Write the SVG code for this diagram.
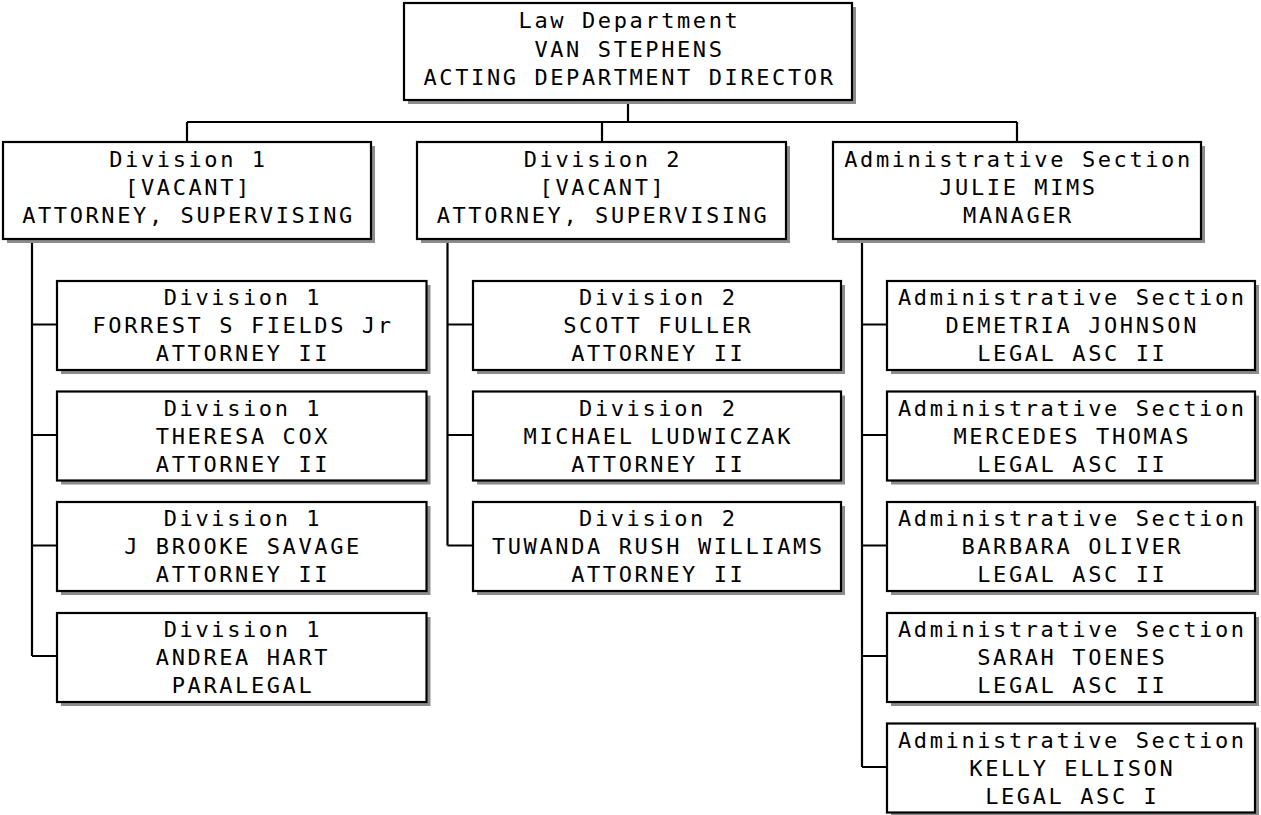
<svg xmlns="http://www.w3.org/2000/svg" width="1261" height="815" viewBox="0 0 1261 815">
<defs>
<style>
.shadow{fill:#8c8c8c;stroke:none}
.box{fill:#ffffff;stroke:#000000;stroke-width:2.2}
text{font-family:"DejaVu Sans Mono","Liberation Mono",monospace;font-size:22px;letter-spacing:2.6px;text-anchor:middle;fill:#000000}
.conn{fill:none;stroke:#000000;stroke-width:2.2}
</style>
</defs>
<rect width="1261" height="815" fill="#ffffff"/>
<g id="connectors">
<path class="conn" d="M628,100 V122 M187,122 H1017 M187,122 V142 M602,122 V142 M1017,122 V142"/>
<path class="conn" d="M32,239 V656 M32,324.5 H57 M32,435 H57 M32,545.5 H57 M32,656 H57"/>
<path class="conn" d="M447.5,239 V545.5 M447.5,324.5 H473 M447.5,435 H473 M447.5,545.5 H473"/>
<path class="conn" d="M862,239 V767 M862,324.5 H887 M862,435 H887 M862,545.5 H887 M862,656 H887 M862,767 H887"/>
</g>
<g id="n-top">
<rect class="shadow" x="408" y="7" width="448" height="97"/>
<rect class="box" x="404" y="3" width="448" height="97"/>
<text x="629.5" y="28">Law Department</text>
<text x="629.5" y="57">VAN STEPHENS</text>
<text x="629.5" y="85">ACTING DEPARTMENT DIRECTOR</text>
</g>
<g id="n-div1">
<rect class="shadow" x="7" y="146" width="368" height="97"/>
<rect class="box" x="3" y="142" width="368" height="97"/>
<text x="188.5" y="167">Division 1</text>
<text x="188.5" y="195">[VACANT]</text>
<text x="188.5" y="223">ATTORNEY, SUPERVISING</text>
</g>
<g id="n-div2">
<rect class="shadow" x="421" y="146" width="369" height="97"/>
<rect class="box" x="417" y="142" width="369" height="97"/>
<text x="603" y="167">Division 2</text>
<text x="603" y="195">[VACANT]</text>
<text x="603" y="223">ATTORNEY, SUPERVISING</text>
</g>
<g id="n-admin">
<rect class="shadow" x="837" y="146" width="368" height="97"/>
<rect class="box" x="833" y="142" width="368" height="97"/>
<text x="1018.5" y="167">Administrative Section</text>
<text x="1018.5" y="195">JULIE MIMS</text>
<text x="1018.5" y="223">MANAGER</text>
</g>
<g id="n-d1c1">
<rect class="shadow" x="61" y="285" width="369.5" height="89"/>
<rect class="box" x="57" y="281" width="369.5" height="89"/>
<text x="243" y="305">Division 1</text>
<text x="243" y="333">FORREST S FIELDS Jr</text>
<text x="243" y="361">ATTORNEY II</text>
</g>
<g id="n-d1c2">
<rect class="shadow" x="61" y="395.5" width="369.5" height="89"/>
<rect class="box" x="57" y="391.5" width="369.5" height="89"/>
<text x="243" y="415.5">Division 1</text>
<text x="243" y="443.5">THERESA COX</text>
<text x="243" y="471.5">ATTORNEY II</text>
</g>
<g id="n-d1c3">
<rect class="shadow" x="61" y="506" width="369.5" height="89"/>
<rect class="box" x="57" y="502" width="369.5" height="89"/>
<text x="243" y="526">Division 1</text>
<text x="243" y="554">J BROOKE SAVAGE</text>
<text x="243" y="582">ATTORNEY II</text>
</g>
<g id="n-d1c4">
<rect class="shadow" x="61" y="617" width="369.5" height="89"/>
<rect class="box" x="57" y="613" width="369.5" height="89"/>
<text x="243" y="637">Division 1</text>
<text x="243" y="665">ANDREA HART</text>
<text x="243" y="693">PARALEGAL</text>
</g>
<g id="n-d2c1">
<rect class="shadow" x="477" y="285" width="368" height="89"/>
<rect class="box" x="473" y="281" width="368" height="89"/>
<text x="658.3" y="305">Division 2</text>
<text x="658.3" y="333">SCOTT FULLER</text>
<text x="658.3" y="361">ATTORNEY II</text>
</g>
<g id="n-d2c2">
<rect class="shadow" x="477" y="395.5" width="368" height="89"/>
<rect class="box" x="473" y="391.5" width="368" height="89"/>
<text x="658.3" y="415.5">Division 2</text>
<text x="658.3" y="443.5">MICHAEL LUDWICZAK</text>
<text x="658.3" y="471.5">ATTORNEY II</text>
</g>
<g id="n-d2c3">
<rect class="shadow" x="477" y="506" width="368" height="89"/>
<rect class="box" x="473" y="502" width="368" height="89"/>
<text x="658.3" y="526">Division 2</text>
<text x="658.3" y="554">TUWANDA RUSH WILLIAMS</text>
<text x="658.3" y="582">ATTORNEY II</text>
</g>
<g id="n-a1">
<rect class="shadow" x="891" y="285" width="368" height="89"/>
<rect class="box" x="887" y="281" width="368" height="89"/>
<text x="1072.3" y="305">Administrative Section</text>
<text x="1072.3" y="333">DEMETRIA JOHNSON</text>
<text x="1072.3" y="361">LEGAL ASC II</text>
</g>
<g id="n-a2">
<rect class="shadow" x="891" y="395.5" width="368" height="89"/>
<rect class="box" x="887" y="391.5" width="368" height="89"/>
<text x="1072.3" y="415.5">Administrative Section</text>
<text x="1072.3" y="443.5">MERCEDES THOMAS</text>
<text x="1072.3" y="471.5">LEGAL ASC II</text>
</g>
<g id="n-a3">
<rect class="shadow" x="891" y="506" width="368" height="89"/>
<rect class="box" x="887" y="502" width="368" height="89"/>
<text x="1072.3" y="526">Administrative Section</text>
<text x="1072.3" y="554">BARBARA OLIVER</text>
<text x="1072.3" y="582">LEGAL ASC II</text>
</g>
<g id="n-a4">
<rect class="shadow" x="891" y="617" width="368" height="89"/>
<rect class="box" x="887" y="613" width="368" height="89"/>
<text x="1072.3" y="637">Administrative Section</text>
<text x="1072.3" y="665">SARAH TOENES</text>
<text x="1072.3" y="693">LEGAL ASC II</text>
</g>
<g id="n-a5">
<rect class="shadow" x="891" y="727.5" width="368" height="89"/>
<rect class="box" x="887" y="723.5" width="368" height="89"/>
<text x="1072.3" y="747.5">Administrative Section</text>
<text x="1072.3" y="775.5">KELLY ELLISON</text>
<text x="1072.3" y="803.5">LEGAL ASC I</text>
</g>
</svg>
